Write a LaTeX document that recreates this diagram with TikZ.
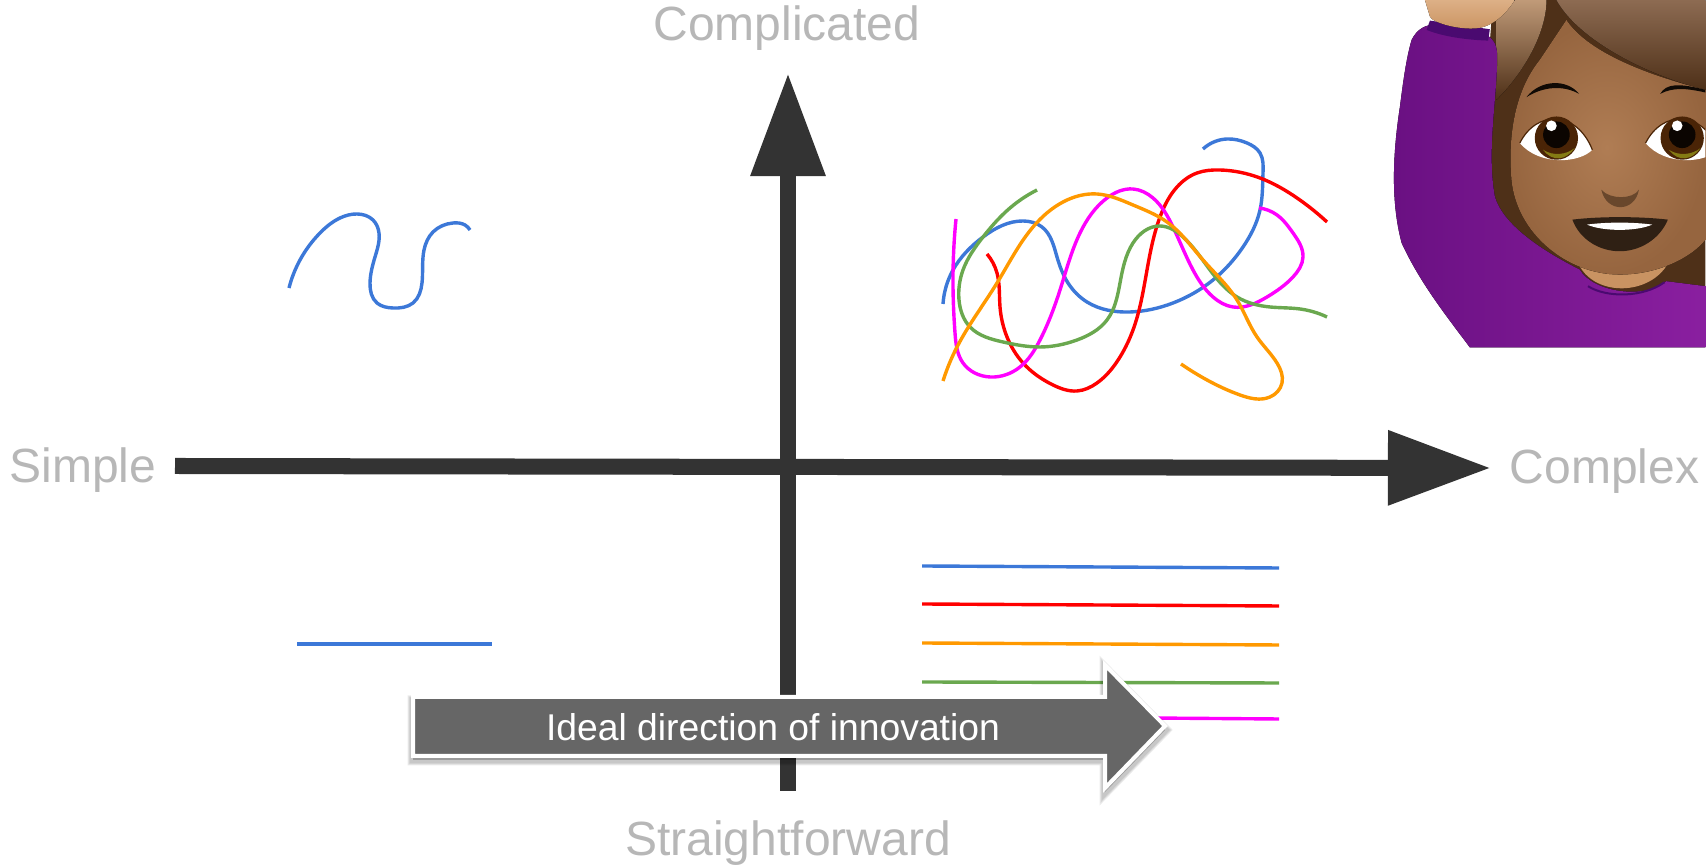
\documentclass[tikz,border=0pt]{standalone}
\usepackage{fontspec}
\setmainfont{Liberation Sans}
\usetikzlibrary{arrows.meta,hobby}

\definecolor{axisgrey}{HTML}{333333}
\definecolor{labelgrey}{HTML}{B7B7B7}
\definecolor{boxgrey}{HTML}{666666}
\definecolor{lineblue}{HTML}{3C78D8}
\definecolor{linered}{HTML}{FF0000}
\definecolor{lineorange}{HTML}{FF9900}
\definecolor{linegreen}{HTML}{6AA84F}
\definecolor{linemagenta}{HTML}{FF00FF}
\definecolor{sleeve}{HTML}{8A1FA0}
\definecolor{sleeveedge}{HTML}{6A1082}
\definecolor{sleevedark}{HTML}{4A0A70}
\definecolor{skin}{HTML}{B07D54}
\definecolor{skinedge}{HTML}{96653F}
\definecolor{skinlight}{HTML}{D49C68}
\definecolor{hair}{HTML}{4E3018}
\definecolor{hairlight}{HTML}{8D6B52}
\definecolor{hairpale}{HTML}{C09A78}
\definecolor{iris}{HTML}{4A2406}
\definecolor{mouthdark}{HTML}{2F2014}

\tikzset{
   axisline/.style={line width=0.16cm, color=axisgrey},
   axislabel/.style={text=labelgrey, inner sep=0pt, font=\fontsize{13.65pt}{16pt}\selectfont},
   stroke/.style={line width=0.034cm, line join=round, use Hobby shortcut},
}

\begin{document}
\begin{tikzpicture}[x=0.01cm, y=-0.01cm]

      % Definitions
      \def\tipL{1.03cm}  % Length of the axis tips
      \def\tipW{0.71cm}  % Width of the axis tips
      \def\bigarrow{(413,697) -- (1105,697) -- (1105,665) -- (1165,726) -- (1105,788) -- (1105,756) -- (413,756) -- cycle}

      \useasboundingbox [fill=white] (0,0) rectangle (1706,865);

      \coordinate (W) at (175,466);
      \coordinate (E) at (1491,468);
      \coordinate (S) at (788,791);
      \coordinate (N) at (788,73);

      % Squiggles, top half
      \draw [stroke, lineblue] (289,288) .. (300,260) .. (320,233) .. (340,218) .. (357,214) .. (373,220) .. (379,233) .. (375,257) .. (370,283) .. (377,303) .. (393,308) .. (413,303) .. (422,283) .. (424,250) .. (433,232) .. (453,223) .. (465,225) .. (470,230);
      \draw [stroke, lineblue] (943,304) .. (953,270) .. (983,237) .. (1023,221) .. (1042,227) .. (1057,257) .. (1068,283) .. (1087,302) .. (1130,312) .. (1173,303) .. (1213,280) .. (1243,247) .. (1260,210) .. (1263,173) .. (1260,153) .. (1247,143) .. (1227,139) .. (1203,149);
      \draw [stroke, linered] (987,254) .. (997,273) .. (1000,307) .. (1007,337) .. (1023,363) .. (1053,385) .. (1077,391) .. (1097,383) .. (1120,357) .. (1133,330) .. (1147,270) .. (1160,217) .. (1177,187) .. (1197,173) .. (1220,170) .. (1260,178) .. (1297,198) .. (1327,222);
      \draw [stroke, linemagenta] (956,219) .. (953,287) .. (955,333) .. (963,363) .. (990,377) .. (1020,367) .. (1040,340) .. (1060,290) .. (1080,233) .. (1107,198) .. (1133,189) .. (1153,198) .. (1173,227) .. (1193,270) .. (1213,297) .. (1233,307) .. (1267,297) .. (1293,277) .. (1303,257) .. (1293,233) .. (1277,215) .. (1259,208);
      \draw [stroke, linegreen] (1037,190) .. (1010,208) .. (983,237) .. (963,270) .. (959,300) .. (970,327) .. (1003,342) .. (1040,347) .. (1077,340) .. (1107,320) .. (1120,283) .. (1133,243) .. (1160,226) .. (1183,237) .. (1210,270) .. (1237,297) .. (1270,307) .. (1300,309) .. (1327,317);
      \draw [stroke, lineorange] (943,381) .. (957,347) .. (997,283) .. (1033,227) .. (1063,202) .. (1097,194) .. (1133,205) .. (1167,222) .. (1203,260) .. (1237,300) .. (1257,337) .. (1277,363) .. (1282,383) .. (1270,397) .. (1240,395) .. (1207,380) .. (1181,364);

      % Straight lines, bottom half
      \draw [line width=0.034cm, lineblue] (297,644) -- (492,644);
      \draw [line width=0.034cm, lineblue] (922,566) -- (1279,568);
      \draw [line width=0.034cm, linered] (922,604) -- (1279,606);
      \draw [line width=0.034cm, lineorange] (922,643) -- (1279,645);
      \draw [line width=0.034cm, linegreen] (922,682) -- (1279,683);
      \draw [line width=0.034cm, linemagenta] (1150,718) -- (1279,719);

      % Axes
      \draw [axisline, -{Triangle[length=\tipL, width=\tipW]}] (W) -- (E);
      \draw [axisline, -{Triangle[length=\tipL, width=\tipW]}] (S) -- (N);

      \node [axislabel] (complicated) at (787,28) {Complicated};
      \node [axislabel] (straightforward) at (788,843) {Straightforward};
      \node [axislabel, anchor=east] (simple) at (157,470) {Simple};
      \node [axislabel, anchor=west] (complex) at (1509,471) {Complex};

      % Big arrow, soft shadow first
      \foreach \sh in {0.11,0.09,0.07} {
         \draw [black, fill=black, opacity=0.08, line width=\sh cm, miter limit=3, yshift=-0.04cm] \bigarrow;
      }
      \draw [fill=boxgrey, draw=white, line width=0.04cm, miter limit=10] \bigarrow;
      \node [text=white, inner sep=0pt, font=\fontsize{10.6pt}{12pt}\selectfont] (ideal) at (773,727) {Ideal direction of innovation};

      % Emoji
      \begin{scope}[shift={(1380,0)}, x=0.003333cm, y=-0.003333cm]
         \clip (0,0) rectangle (978,1044);

         % hair
         \fill [hair] (340,0) -- (300,500) -- (400,800) -- (620,920) -- (978,920) -- (978,0) -- cycle;
         \fill [top color=hairpale, bottom color=hair] (350,0) -- (500,0) .. controls (500,100) and (430,220) .. (350,300) -- cycle;
         \fill [top color=hairlight, bottom color=hair] (530,0) .. controls (590,110) and (780,220) .. (978,270) -- (978,0) -- cycle;

         % sleeve
         \fill [left color=sleeveedge, right color=sleeve] (95,120) .. controls (110,90) and (130,80) .. (150,75) -- (320,105) .. controls (345,120) and (352,140) .. (352,170)
            .. controls (352,300) and (320,450) .. (345,590) .. controls (370,680) and (500,760) .. (600,810)
            .. controls (640,880) and (800,900) .. (860,845) -- (978,860) -- (978,1044) -- (270,1044)
            .. controls (200,950) and (120,850) .. (65,730) .. controls (30,600) and (40,450) .. (60,320) .. controls (70,240) and (80,170) .. (95,120) -- cycle;

         % neck and cuff
         \fill [skinlight!70!skin] (595,790) .. controls (640,890) and (800,890) .. (860,800) -- cycle;
         \draw [sleevedark, line width=0.02cm] (625,860) .. controls (680,895) and (790,895) .. (855,848);
         \fill [sleevedark] (150,62) -- (330,88) -- (325,122) .. controls (260,120) and (190,110) .. (140,90) -- cycle;
         \fill [top color=skinlight!80!white, bottom color=skinlight!85!skinedge] (135,0) -- (405,0) .. controls (380,40) and (340,80) .. (290,85) .. controls (240,90) and (160,70) .. (150,50) -- cycle;

         % face
         \fill [inner color=skin, outer color=skinedge] (480,180) .. controls (400,280) and (385,420) .. (395,540) .. controls (410,700) and (560,825) .. (720,825)
            .. controls (840,825) and (940,770) .. (978,720) -- (978,270) .. controls (780,220) and (620,150) .. (560,60) -- cycle;

         % brows
         \fill [black!80!hair] (440,292) .. controls (480,240) and (560,235) .. (598,282) .. controls (550,255) and (490,260) .. (440,292) -- cycle;
         \fill [black!80!hair] (842,282) .. controls (860,250) and (900,250) .. (978,270) -- (978,278) .. controls (920,265) and (880,262) .. (842,282) -- cycle;

         % eyes
         \foreach \ex in {0,378} {
            \begin{scope}[xshift=\ex*0.003333cm]
               \fill [white] (420,430) .. controls (470,330) and (590,330) .. (638,450) .. controls (600,490) and (480,500) .. (420,430) -- cycle;
               \fill [iris] (530,415) circle [radius=65];
               \fill [black!85!iris] (530,405) circle [radius=40];
               \fill [olive!80!iris] (490,450) .. controls (520,490) and (560,480) .. (585,445) .. controls (560,465) and (520,470) .. (490,450) -- cycle;
               \fill [white] (515,378) circle [radius=16];
               \draw [iris, line width=0.012cm] (420,430) .. controls (470,330) and (590,330) .. (638,450);
            \end{scope}
         }

         % nose and mouth
         \fill [skinedge!70!black] (665,570) .. controls (680,640) and (765,640) .. (778,570) .. controls (760,600) and (690,600) .. (665,570) -- cycle;
         \fill [mouthdark] (578,660) .. controls (660,650) and (780,650) .. (865,660) .. controls (840,720) and (780,755) .. (720,755) .. controls (660,755) and (600,720) .. (578,660) -- cycle;
         \fill [white] (622,675) .. controls (680,667) and (760,667) .. (818,675) .. controls (770,696) and (670,696) .. (622,675) -- cycle;
      \end{scope}

\end{tikzpicture}
\end{document}
